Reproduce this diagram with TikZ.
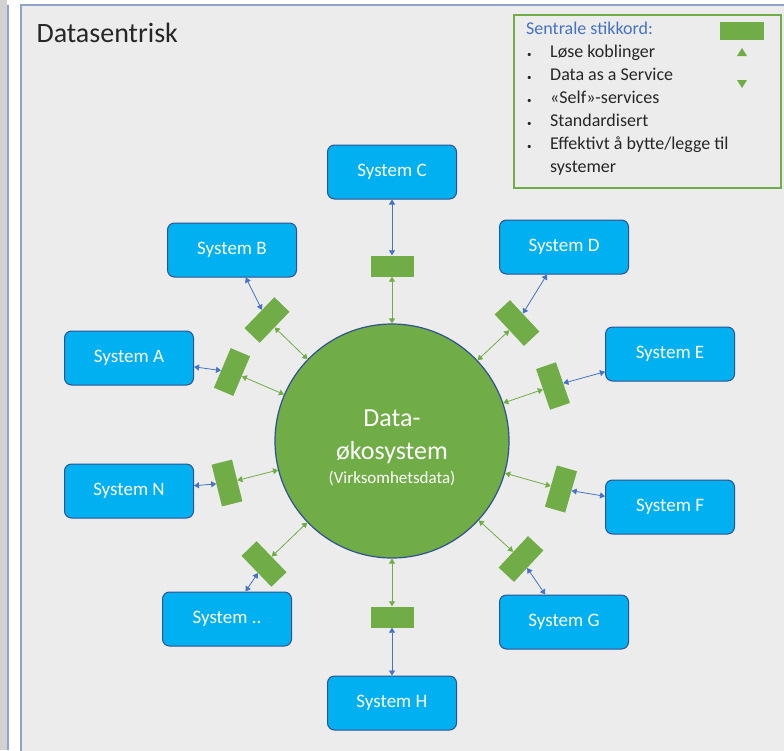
\documentclass[tikz,border=0pt]{standalone}
\usepackage{fontspec}
\setmainfont{Carlito}
\usetikzlibrary{arrows.meta}

\definecolor{panelbg}{HTML}{ECECEC}
\definecolor{panelline}{HTML}{8EA2CB}
\definecolor{stripgrey}{HTML}{D2D2D2}
\definecolor{sysblue}{HTML}{00B0F0}
\definecolor{sysedge}{HTML}{2F528F}
\definecolor{plug}{HTML}{70AD47}
\definecolor{linkblue}{HTML}{4472C4}
\definecolor{keytext}{HTML}{262626}

\newcommand{\keybul}{\makebox[24pt][l]{\hspace{1pt}{\fontsize{9}{9}\selectfont\textbullet}}}

\tikzset{
    system/.style={draw=sysedge, line width=1pt, fill=sysblue, rounded corners=7pt,
        minimum width=129pt, minimum height=54pt, text=white, font=\fontsize{19}{21}\selectfont},
    plugbox/.style={fill=plug, minimum width=43pt, minimum height=21pt, inner sep=0pt},
    bluelink/.style={linkblue, line width=0.8pt,
        {Triangle[width=6pt,length=5pt]}-{Triangle[width=6pt,length=5pt]}},
    greenlink/.style={plug, line width=0.8pt,
        {Triangle[width=6pt,length=5pt]}-{Triangle[width=6pt,length=5pt]}}
}

\begin{document}
\begin{tikzpicture}[x=1pt, y=-1pt]
        \useasboundingbox (0,0) rectangle (784,750);
        \fill[white] (0,0) rectangle (784,750);
        \fill[stripgrey] (0,0) rectangle (7,750);
        \draw[panelline, line width=1.5pt] (8,5) -- (8,750);
        \filldraw[fill=panelbg, draw=panelline, line width=1.5pt] (21,5) rectangle (800,770);

        \node[anchor=west, font=\fontsize{28}{32}\selectfont, text=keytext] (title) at (33,33) {Datasentrisk};

        % Nøkkelord
        \draw[plug, line width=1.2pt] (514,15) rectangle (781,188);
        \node[anchor=north west, align=left, inner sep=0pt, text=keytext,
            font=\fontsize{18}{23}\selectfont] (keylist) at (526,22) {%
            \textcolor{linkblue}{Sentrale stikkord:}\\
            \keybul Løse koblinger\\
            \keybul Data as a Service\\
            \keybul «Self»-services\\
            \keybul Standardisert\\
            \keybul Effektivt å bytte/legge til\\
            \hspace*{24pt}systemer};
        \node[plugbox, minimum width=44pt, minimum height=18pt] (keyplug) at (742,31) {};
        \fill[plug] (737,56) -- (747,56) -- (742,48) -- cycle;
        \fill[plug] (737,80) -- (747,80) -- (742,88) -- cycle;

        \node[circle, fill=plug, draw=sysedge, line width=1.2pt, minimum size=234pt,
            inner sep=0pt, text=white, align=center, font=\fontsize{26}{33}\selectfont]
            (eco) at (392,441)
            {\rule{0pt}{31pt}Data-\\økosystem\\[-9pt]{\fontsize{17}{20}\selectfont (Virksomhetsdata)}};

        \node[system] (sysC) at (392,172) {System C};
        \node[system] (sysB) at (232,250) {System B};
        \node[system] (sysD) at (564,247) {System D};
        \node[system] (sysA) at (129,358) {System A};
        \node[system] (sysE) at (670,354) {System E};
        \node[system] (sysN) at (129,491) {System N};
        \node[system] (sysF) at (670,507) {System F};
        \node[system] (sysX) at (227,619) {System ..};
        \node[system] (sysG) at (564,622) {System G};
        \node[system] (sysH) at (392,703) {System H};

        \node[plugbox] (plugC) at (392,266) {};
        \node[plugbox, rotate=46] (plugB) at (267,320) {};
        \node[plugbox, rotate=-47] (plugD) at (517,323) {};
        \node[plugbox, rotate=67] (plugA) at (232,372) {};
        \node[plugbox, rotate=-71] (plugE) at (553,386) {};
        \node[plugbox, rotate=-76] (plugN) at (227,483) {};
        \node[plugbox, rotate=74] (plugF) at (561,489) {};
        \node[plugbox, rotate=-46] (plugX) at (264,564) {};
        \node[plugbox, rotate=47] (plugG) at (521,559) {};
        \node[plugbox] (plugH) at (392,617) {};

        \draw[greenlink] (eco) -- (plugC);
        \draw[greenlink] (eco) -- (plugB);
        \draw[greenlink] (eco) -- (plugD);
        \draw[greenlink] (eco) -- (plugA);
        \draw[greenlink] (eco) -- (plugE);
        \draw[greenlink] (eco) -- (plugN);
        \draw[greenlink] (eco) -- (plugF);
        \draw[greenlink] (eco) -- (plugX);
        \draw[greenlink] (eco) -- (plugG);
        \draw[greenlink] (eco) -- (plugH);

        \draw[bluelink] (plugC) -- (sysC);
        \draw[bluelink] (plugB) -- (sysB);
        \draw[bluelink] (plugD) -- (sysD);
        \draw[bluelink] (plugA) -- (sysA);
        \draw[bluelink] (plugE) -- (sysE);
        \draw[bluelink] (plugN) -- (sysN);
        \draw[bluelink] (plugF) -- (sysF);
        \draw[bluelink] (plugX) -- (sysX);
        \draw[bluelink] (plugG) -- (sysG);
        \draw[bluelink] (plugH) -- (sysH);
    \end{tikzpicture}
\end{document}
